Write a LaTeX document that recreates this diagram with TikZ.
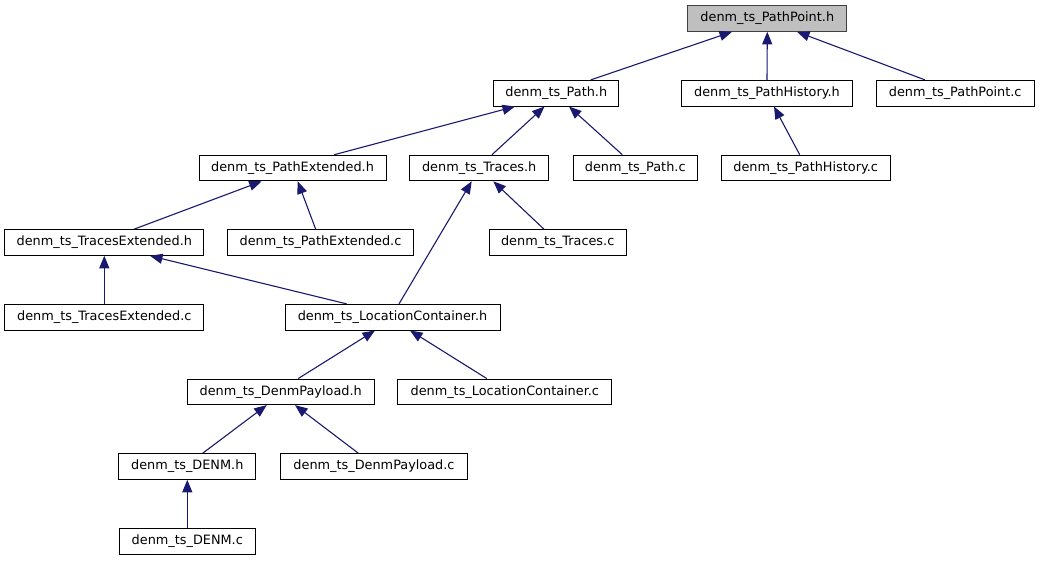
\documentclass[tikz,border=0pt]{standalone}
\usepackage{fontspec}
\setmainfont{DejaVu Sans}
\usetikzlibrary{arrows.meta}
\definecolor{edgeblue}{HTML}{191970}
\definecolor{rootfill}{HTML}{BFBFBF}
\definecolor{rootline}{HTML}{404040}
\tikzset{
  box/.style={draw=black, line width=1pt, fill=white, inner sep=0pt,
    minimum height=25.6pt, text height=9.8pt, text depth=3pt,
    font=\fontsize{12.85}{15}\selectfont, anchor=center},
  root/.style={box, fill=rootfill, draw=rootline},
  dep/.style={draw=edgeblue, line width=1.1pt,
    -{Triangle[length=12.5pt,width=10pt,fill=edgeblue]}},
}
\begin{document}
\begin{tikzpicture}[x=1pt,y=-1pt]
\useasboundingbox (0,0) rectangle (1039,560);
% row 1
\node[root, minimum width=158.7pt] (PPh) at (767.3,18.5) {denm\_ts\_PathPoint.h};
% row 2
\node[box, minimum width=125.3pt] (Pathh) at (556.3,93.2) {denm\_ts\_Path.h};
\node[box, minimum width=170.6pt] (PHh) at (767,93.2) {denm\_ts\_PathHistory.h};
\node[box, minimum width=157.7pt] (PPc) at (955.2,93.2) {denm\_ts\_PathPoint.c};
% row 3
\node[box, minimum width=187pt] (PEh) at (292.5,168) {denm\_ts\_PathExtended.h};
\node[box, minimum width=139pt] (Trh) at (479.2,168) {denm\_ts\_Traces.h};
\node[box, minimum width=124.3pt] (Pathc) at (635.2,168) {denm\_ts\_Path.c};
\node[box, minimum width=169.3pt] (PHc) at (805.7,168) {denm\_ts\_PathHistory.c};
% row 4
\node[box, minimum width=199.3pt] (TEh) at (104.3,242.5) {denm\_ts\_TracesExtended.h};
\node[box, minimum width=185.6pt] (PEc) at (320.5,242.5) {denm\_ts\_PathExtended.c};
\node[box, minimum width=137.3pt] (Trc) at (557.7,242.5) {denm\_ts\_Traces.c};
% row 5
\node[box, minimum width=199.3pt] (TEc) at (104.3,317.2) {denm\_ts\_TracesExtended.c};
\node[box, minimum width=215pt] (LCh) at (392.5,317.2) {denm\_ts\_LocationContainer.h};
% row 6
\node[box, minimum width=186.7pt] (DPh) at (280.7,391.8) {denm\_ts\_DenmPayload.h};
\node[box, minimum width=213.7pt] (LCc) at (504.8,391.8) {denm\_ts\_LocationContainer.c};
% row 7
\node[box, minimum width=137.3pt] (DENMh) at (187.3,466.5) {denm\_ts\_DENM.h};
\node[box, minimum width=186.6pt] (DPc) at (374,466.5) {denm\_ts\_DenmPayload.c};
% row 8
\node[box, minimum width=136pt] (DENMc) at (187.3,541.3) {denm\_ts\_DENM.c};
% edges
\draw[dep] ([xshift=34.4pt]Pathh.north) -- ([xshift=-35.3pt]PPh.south);
\draw[dep] (PHh.north) -- (PPh.south);
\draw[dep] ([xshift=-30.2pt]PPc.north) -- ([xshift=29.7pt]PPh.south);
\draw[dep] ([xshift=-12.9pt]Pathc.north) -- ([xshift=12.7pt]Pathh.south);
\draw[dep] ([xshift=12.8pt]Trh.north) -- ([xshift=-11.8pt]Pathh.south);
\draw[dep] ([xshift=41.8pt]PEh.north) -- ([xshift=-41.3pt]Pathh.south);
\draw[dep] ([xshift=-6pt]PHc.north) -- ([xshift=7pt]PHh.south);
\draw[dep] ([xshift=29.7pt]TEh.north) -- ([xshift=-30.8pt]PEh.south);
\draw[dep] ([xshift=-4.8pt]PEc.north) -- ([xshift=5.2pt]PEh.south);
\draw[dep] ([xshift=-13.7pt]Trc.north) -- ([xshift=14.1pt]Trh.south);
\draw[dep] ([xshift=6.5pt]LCh.north) -- ([xshift=-7.5pt]Trh.south);
\draw[dep] ([xshift=-45.8pt]LCh.north) -- ([xshift=45.7pt]TEh.south);
\draw[dep] (TEc.north) -- (TEh.south);
\draw[dep] ([xshift=17.6pt]DPh.north) -- ([xshift=-17.5pt]LCh.south);
\draw[dep] ([xshift=-18.1pt]LCc.north) -- ([xshift=17.5pt]LCh.south);
\draw[dep] ([xshift=15.4pt]DENMh.north) -- ([xshift=-14pt]DPh.south);
\draw[dep] ([xshift=-15.7pt]DPc.north) -- ([xshift=14.3pt]DPh.south);
\draw[dep] (DENMc.north) -- (DENMh.south);
\end{tikzpicture}
\end{document}
